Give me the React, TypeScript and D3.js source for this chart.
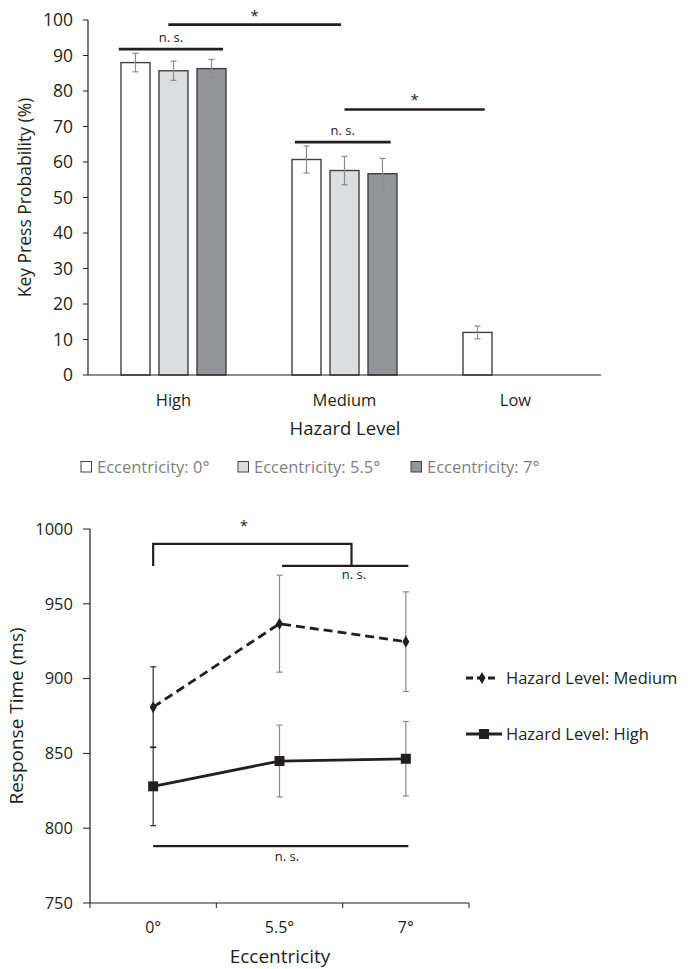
import React from "react";
import * as d3 from "d3";

// ---- top chart data (key press probability, %) ----
const hazardLevels = ["High", "Medium", "Low"];
const eccSeries = ["Eccentricity: 0°", "Eccentricity: 5.5°", "Eccentricity: 7°"];
const probMeans: (number | null)[][] = [
  [88.0, 85.7, 86.3],
  [60.7, 57.6, 56.7],
  [12.0, null, null],
];
const probErrors: (number | null)[][] = [
  [2.6, 2.7, 2.6],
  [3.8, 4.0, 4.3],
  [1.8, null, null],
];
const probTicks = [0, 10, 20, 30, 40, 50, 60, 70, 80, 90, 100];
const barFills = ["#ffffff", "#dcdddf", "#939598"];

// significance marks, x in group units (0 = High centre), y in %
const probSig = [
  { x1: -0.32, x2: 0.29, y: 91.8, label: "n. s.", star: false },
  { x1: -0.03, x2: 0.98, y: 98.7, label: "*", star: true },
  { x1: 0.71, x2: 1.27, y: 65.6, label: "n. s.", star: false },
  { x1: 1.0, x2: 1.82, y: 74.8, label: "*", star: true },
];

// ---- bottom chart data (response time, ms) ----
const eccTicks = ["0°", "5.5°", "7°"];
const rtMedium = [880.9, 936.7, 924.7];
const rtMediumErr = [27, 32.4, 33.3];
const rtHigh = [828.0, 844.9, 846.4];
const rtHighErr = [26.3, 24, 24.9];
const rtTicks = [750, 800, 850, 900, 950, 1000];
const lineLegend = ["Hazard Level: Medium", "Hazard Level: High"];

const FONT = "'Open Sans', sans-serif";
const INK = "#231f20";

const App = () => {
  // top scales
  const x0 = d3.scaleBand().domain(hazardLevels).range([88, 601]);
  const x1 = d3
    .scaleBand()
    .domain(eccSeries)
    .range([0, x0.bandwidth()])
    .paddingInner(0.237)
    .paddingOuter(0.868);
  const y = d3.scaleLinear().domain([0, 100]).range([375, 20]);
  const xg = d3.scaleLinear().domain([-0.5, 2.5]).range([88, 601]);

  // bottom scales
  const xb = d3.scaleBand().domain(eccTicks).range([90, 469]);
  const xbc = (d: string) => (xb(d) as number) + xb.bandwidth() / 2;
  const xbl = d3.scaleLinear().domain([-0.5, 2.5]).range([90, 469]);
  const yb = d3.scaleLinear().domain([750, 1000]).range([903, 529]);

  const line = d3
    .line<number>()
    .x((_, i) => xbc(eccTicks[i]))
    .y((d) => yb(d));

  const errColors = ["#2a2a2a", "#8a8a8a", "#8a8a8a"];

  const bars: React.ReactNode[] = [];
  hazardLevels.forEach((h, gi) => {
    eccSeries.forEach((s, si) => {
      const v = probMeans[gi][si];
      if (v == null) return;
      const bx = (x0(h) as number) + (x1(s) as number);
      const bw = x1.bandwidth();
      const e = probErrors[gi][si] as number;
      const cx = bx + bw / 2;
      bars.push(
        <g key={h + s}>
          <rect x={bx} y={y(v)} width={bw} height={y(0) - y(v)} fill={barFills[si]} stroke="#404040" strokeWidth={1.4} />
          <line x1={cx} x2={cx} y1={y(v + e)} y2={y(v - e)} stroke="#8c8c8c" strokeWidth={1.2} />
          <line x1={cx - 3} x2={cx + 3} y1={y(v + e)} y2={y(v + e)} stroke="#8c8c8c" strokeWidth={1.2} />
          <line x1={cx - 3} x2={cx + 3} y1={y(v - e)} y2={y(v - e)} stroke="#8c8c8c" strokeWidth={1.2} />
        </g>
      );
    });
  });

  const errBars = (vals: number[], errs: number[], key: string) =>
    vals.map((v, i) => {
      const cx = xbc(eccTicks[i]);
      const c = errColors[i];
      return (
        <g key={key + i}>
          <line x1={cx} x2={cx} y1={yb(v + errs[i])} y2={yb(v - errs[i])} stroke={c} strokeWidth={1.2} />
          <line x1={cx - 3} x2={cx + 3} y1={yb(v + errs[i])} y2={yb(v + errs[i])} stroke={c} strokeWidth={1.2} />
          <line x1={cx - 3} x2={cx + 3} y1={yb(v - errs[i])} y2={yb(v - errs[i])} stroke={c} strokeWidth={1.2} />
        </g>
      );
    });

  const diamond = d3.symbol().type(d3.symbolDiamond).size(42)() as string;

  return (
    <svg width={693} height={969} style={{ position: "absolute", left: 0, top: 0, background: "#fff" }} fontFamily={FONT}>
      <rect width={693} height={969} fill="#fff" />

      {/* ---------- top: bar chart ---------- */}
      {probTicks.map((t) => (
        <g key={"pt" + t}>
          <line x1={83} x2={88} y1={y(t)} y2={y(t)} stroke={INK} strokeWidth={1} />
          <text x={73} y={y(t)} dy="0.35em" textAnchor="end" fontSize={17.5} fill={INK}>
            {t}
          </text>
        </g>
      ))}
      {bars}
      <line x1={88} x2={88} y1={y(100)} y2={y(0)} stroke={INK} strokeWidth={1.2} />
      <line x1={88} x2={601} y1={y(0)} y2={y(0)} stroke={INK} strokeWidth={1.2} />
      {hazardLevels.map((h) => (
        <text key={h} x={(x0(h) as number) + x0.bandwidth() / 2} y={406} textAnchor="middle" fontSize={16.5} fill={INK}>
          {h}
        </text>
      ))}
      <text x={345} y={435} textAnchor="middle" fontSize={18.5} fill={INK}>
        Hazard Level
      </text>
      <text transform={`translate(31,${(y(0) + y(100)) / 2}) rotate(-90)`} textAnchor="middle" fontSize={17.5} fill={INK}>
        Key Press Probability (%)
      </text>
      {probSig.map((s, i) => (
        <g key={"ps" + i}>
          <line x1={xg(s.x1)} x2={xg(s.x2)} y1={y(s.y)} y2={y(s.y)} stroke={INK} strokeWidth={2.6} />
          <text x={(xg(s.x1) + xg(s.x2)) / 2} y={y(s.y) - (s.star ? 4 : 7)} textAnchor="middle" fontSize={s.star ? 15 : 13} fill={INK}>
            {s.label}
          </text>
        </g>
      ))}
      {/* legend */}
      {eccSeries.map((s, i) => {
        const lx = [81, 238, 411][i];
        return (
          <g key={"lg" + s}>
            <rect x={lx} y={461.5} width={10.5} height={10.5} fill={barFills[i]} stroke="#404040" strokeWidth={1} />
            <text x={lx + 16} y={467} dy="0.35em" fontSize={16.5} fill="#7f7f7f">
              {s}
            </text>
          </g>
        );
      })}

      {/* ---------- bottom: line chart ---------- */}
      {rtTicks.map((t) => (
        <g key={"rt" + t}>
          <line x1={83} x2={90} y1={yb(t)} y2={yb(t)} stroke={INK} strokeWidth={1} />
          <text x={73} y={yb(t)} dy="0.35em" textAnchor="end" fontSize={16.5} fill={INK}>
            {t}
          </text>
        </g>
      ))}
      <line x1={90} x2={90} y1={yb(1000)} y2={yb(750)} stroke={INK} strokeWidth={1.2} />
      <line x1={90} x2={469} y1={yb(750)} y2={yb(750)} stroke={INK} strokeWidth={1.2} />
      {[...eccTicks.map((d) => xb(d) as number), 469].map((tx, i) => (
        <line key={"xt" + i} x1={tx} x2={tx} y1={yb(750)} y2={yb(750) + 5} stroke={INK} strokeWidth={1} />
      ))}
      {eccTicks.map((d) => (
        <text key={"xl" + d} x={xbc(d)} y={933} textAnchor="middle" fontSize={16} fill={INK}>
          {d}
        </text>
      ))}
      <text x={280} y={963} textAnchor="middle" fontSize={19} fill={INK}>
        Eccentricity
      </text>
      <text transform={`translate(23,${(yb(750) + yb(1000)) / 2}) rotate(-90)`} textAnchor="middle" fontSize={19} fill={INK}>
        Response Time (ms)
      </text>

      {errBars(rtMedium, rtMediumErr, "em")}
      {errBars(rtHigh, rtHighErr, "eh")}

      <path d={line(rtMedium) as string} fill="none" stroke={INK} strokeWidth={2.8} strokeDasharray="9,5" />
      {rtMedium.map((v, i) => (
        <path key={"dm" + i} d={diamond} transform={`translate(${xbc(eccTicks[i])},${yb(v)})`} fill={INK} />
      ))}
      <path d={line(rtHigh) as string} fill="none" stroke={INK} strokeWidth={2.8} />
      {rtHigh.map((v, i) => (
        <rect key={"sq" + i} x={xbc(eccTicks[i]) - 5} y={yb(v) - 5} width={10} height={10} fill={INK} />
      ))}

      {/* significance */}
      <path
        d={`M${xbl(0)},${yb(975.3)}V${yb(990)}H${xbl(1.57)}V${yb(975.3)}`}
        fill="none"
        stroke={INK}
        strokeWidth={2.2}
      />
      <text x={244} y={531} textAnchor="middle" fontSize={15} fill={INK}>
        *
      </text>
      <line x1={xbl(1.02)} x2={xbl(2.02)} y1={yb(975.3)} y2={yb(975.3)} stroke={INK} strokeWidth={2.2} />
      <text x={354} y={579} textAnchor="middle" fontSize={13} fill={INK}>
        n. s.
      </text>
      <line x1={xbl(0)} x2={xbl(2.02)} y1={yb(788)} y2={yb(788)} stroke={INK} strokeWidth={2.2} />
      <text x={287} y={861} textAnchor="middle" fontSize={13} fill={INK}>
        n. s.
      </text>

      {/* line legend */}
      <g>
        <line x1={466} x2={497} y1={678} y2={678} stroke={INK} strokeWidth={2.8} strokeDasharray="7,4" />
        <path d={diamond} transform="translate(482,678)" fill={INK} />
        <text x={506} y={678} dy="0.35em" fontSize={16.5} fill={INK}>
          {lineLegend[0]}
        </text>
        <line x1={466} x2={502} y1={734} y2={734} stroke={INK} strokeWidth={2.8} />
        <rect x={479} y={729} width={10} height={10} fill={INK} />
        <text x={506} y={734} dy="0.35em" fontSize={16.5} fill={INK}>
          {lineLegend[1]}
        </text>
      </g>
    </svg>
  );
};

export default App;
